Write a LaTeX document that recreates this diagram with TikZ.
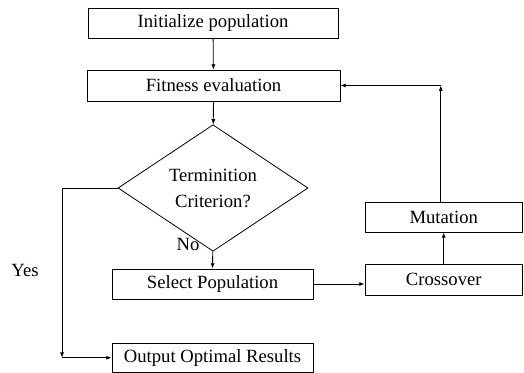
\documentclass[tikz,border=0pt]{standalone}
\usepackage{fontspec}
\setmainfont{Liberation Serif}
\usetikzlibrary{shapes.geometric,arrows.meta}

\tikzset{
  box/.style={draw, line width=0.6pt, inner sep=0pt, font=\fontsize{14}{18.5}\selectfont},
  arr/.style={line width=0.6pt, -{Latex[length=4pt,width=3pt]}},
  lbl/.style={font=\fontsize{14}{18.5}\selectfont}
}

\begin{document}
\begin{tikzpicture}[x=0.75pt,y=-0.75pt]
\useasboundingbox (0,0) rectangle (524,373);
% main column
\node[box, minimum width=187.5pt, minimum height=22.5pt] (init) at (213,23) {Initialize population};
\node[box, minimum width=189.75pt, minimum height=23.25pt] (fit) at (213.5,85.5) {Fitness evaluation};
\node[box, diamond, align=center, font=\fontsize{14}{19.5}\selectfont, minimum width=142.5pt, minimum height=74.25pt] (term) at (213,188) {Terminition\\Criterion?};
\node[box, minimum width=150.75pt, minimum height=22.5pt] (sel) at (212.5,284) {Select Population};
\node[box, minimum width=150.75pt, minimum height=22.1pt] (out) at (212.5,357.75) {Output Optimal Results};
% right column
\node[box, minimum width=118.1pt, minimum height=23.25pt] (cross) at (443.75,279.5) {Crossover};
\node[box, minimum width=118.1pt, minimum height=22.5pt] (mut) at (443.75,217) {Mutation};
% labels
\node[lbl] (no) at (188,244) {No};
\node[lbl] (yes) at (25,270) {Yes};
\coordinate (yc) at (62,357.75);
\coordinate (fb) at ([xshift=-2.25pt]mut.north |- fit.east);
% arrows
\draw[arr] (init) -- (fit);
\draw[arr] (fit) -- (term);
\draw[arr] (term) -- (sel);
\draw[arr] (sel.east) -- (sel.east -| cross.west);
\draw[arr] (cross) -- (mut);
\draw[arr] ([xshift=-2.25pt]mut.north) -- (fb);
\draw[arr] (fb) -- (fit.east);
\draw[arr] (term.west) -| (yc);
\draw[arr] (yc) -- (out.west);
\end{tikzpicture}
\end{document}
